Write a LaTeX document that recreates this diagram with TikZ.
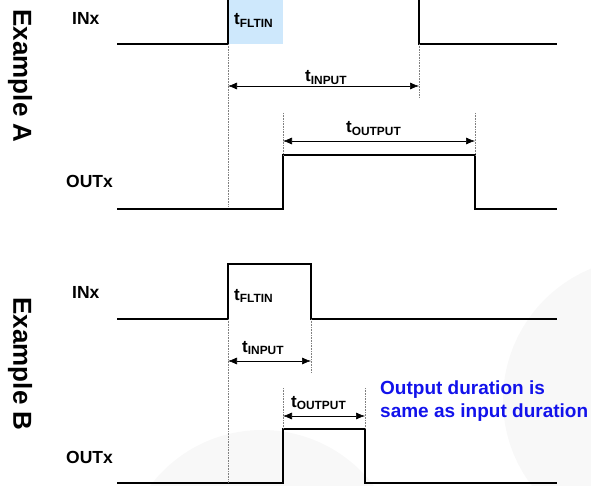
\documentclass[tikz,border=0pt]{standalone}
\usepackage{fontspec}
\setmainfont{Liberation Sans}
\usetikzlibrary{arrows.meta}
\definecolor{fltblue}{RGB}{206,232,252}
\definecolor{notetext}{RGB}{18,18,235}
\definecolor{backdrop}{RGB}{248,248,248}
\newcommand{\tsub}[1]{t\textsubscript{#1}}

\begin{document}
\begin{tikzpicture}[x=1pt, y=-1pt,
    wave/.style  = {line width=1.8pt, line join=miter},
    guide/.style = {densely dotted, gray, line width=0.6pt},
    dim/.style   = {{Latex[length=9pt,width=7pt]}-{Latex[length=9pt,width=7pt]}, line width=0.6pt},
    sig/.style   = {font=\fontsize{17.5}{20}\selectfont\bfseries, anchor=base west, inner sep=0pt},
    tlab/.style  = {font=\fontsize{17}{20}\selectfont\bfseries, anchor=base west, inner sep=0pt},
    side/.style  = {font=\fontsize{26}{30}\selectfont\bfseries, rotate=-90, inner sep=0pt},
    note/.style  = {font=\fontsize{19}{23}\selectfont\bfseries, text=notetext, align=left,
                    anchor=base west, inner sep=0pt},
  ]
    \useasboundingbox (0,0) rectangle (591,486);

    % --- faint backdrop ---
    \fill[backdrop] (645,400) circle[radius=142];
    \fill[backdrop] (262,570) circle[radius=140];

    % --- side titles ---
    \node[side] (exa) at (20,76)  {Example A};
    \node[side] (exb) at (20,364) {Example B};

    % --- example A: filter window ---
    \fill[fltblue] (228,0) rectangle (283,44);

    % --- example A: waveforms ---
    \draw[wave] (117,44) -- (228,44) -- (228,0);
    \draw[wave] (419,0) -- (419,44) -- (557,44);
    \draw[wave] (117,209) -- (283,209) -- (283,155) -- (475,155) -- (475,209) -- (557,209);

    % --- example A: guides and spans ---
    \coordinate (a1) at (228,86);  \coordinate (a2) at (419,86);
    \coordinate (a3) at (283,141); \coordinate (a4) at (475,141);
    \draw[guide] (228,44) -- (228,207);
    \draw[guide] (419,44) -- (419,98);
    \draw[guide] (283,113) -- (283,155);
    \draw[guide] (475,113) -- (475,155);
    \draw[dim] (a1) -- (a2);
    \draw[dim] (a3) -- (a4);

    \node[sig]  (ina)  at (72,25)   {INx};
    \node[sig]  (outa) at (66,188)  {OUTx};
    \node[tlab] (fla)  at (234,25)  {\tsub{FLTIN}};
    \node[tlab] (ipa)  at (305,82)  {\tsub{INPUT}};
    \node[tlab] (opa)  at (346,133) {\tsub{OUTPUT}};

    % --- example B: waveforms ---
    \draw[wave] (117,319) -- (228,319) -- (228,264) -- (311,264) -- (311,319) -- (557,319);
    \draw[wave] (117,483) -- (283,483) -- (283,429) -- (365,429) -- (365,483) -- (557,483);

    % --- example B: guides and spans ---
    \coordinate (b1) at (228,361); \coordinate (b2) at (311,361);
    \coordinate (b3) at (283,416); \coordinate (b4) at (365,416);
    \draw[guide] (228,319) -- (228,483);
    \draw[guide] (311,319) -- (311,373);
    \draw[guide] (283,388) -- (283,429);
    \draw[guide] (365,388) -- (365,429);
    \draw[dim] (b1) -- (b2);
    \draw[dim] (b3) -- (b4);

    \node[sig]  (inb)  at (72,298)  {INx};
    \node[sig]  (outb) at (66,463)  {OUTx};
    \node[tlab] (flb)  at (234,300) {\tsub{FLTIN}};
    \node[tlab] (ipb)  at (242,352) {\tsub{INPUT}};
    \node[tlab] (opb)  at (291,407) {\tsub{OUTPUT}};

    \node[note] (same) at (380,417) {Output duration is\\ same as input duration};
  \end{tikzpicture}
\end{document}
